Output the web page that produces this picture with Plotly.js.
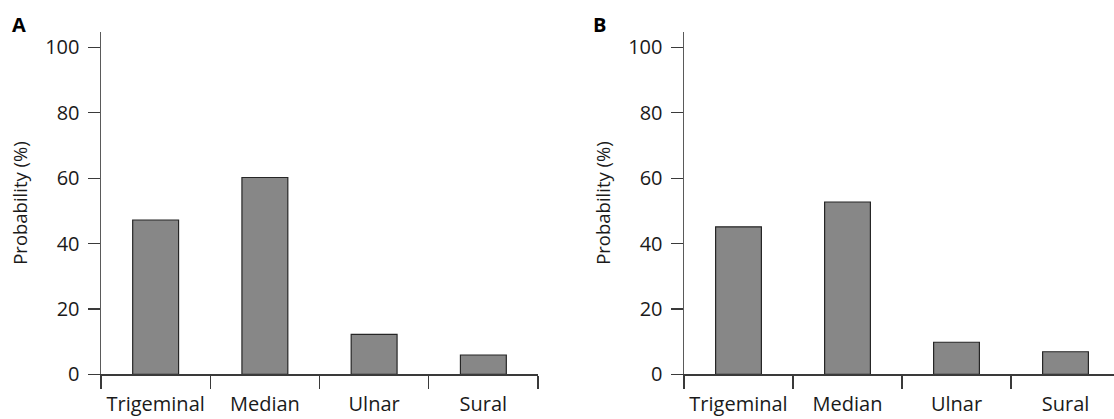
<!DOCTYPE html>
<html>
<head>
<meta charset="utf-8">
<script src="https://cdn.plot.ly/plotly-3.0.1.min.js"></script>
<style>html,body{margin:0;padding:0;background:#fff;}#chart{width:1114px;height:419px;}</style>
</head>
<body>
<div id="chart"></div>
<script>
const categories = ["Trigeminal", "Median", "Ulnar", "Sural"];
const valuesA = [47.2, 60.2, 12.2, 5.9];
const valuesB = [45.1, 52.7, 9.8, 6.9];
const yTickVals = [0, 20, 40, 60, 80, 100];
const yTitle = "Probability (%)";
const panelLabels = ["A", "B"];

const FONT = "Open Sans, Noto Sans, DejaVu Sans, sans-serif";
const barStyle = {color: "#878787", line: {color: "#262626", width: 1.2}};

const traces = [
  {type: "bar", x: categories, y: valuesA, marker: barStyle, xaxis: "x", yaxis: "y", hoverinfo: "skip"},
  {type: "bar", x: categories, y: valuesB, marker: barStyle, xaxis: "x2", yaxis: "y2", hoverinfo: "skip"}
];

const xBase = {
  type: "category", showline: true, linecolor: "#3a3a3a", linewidth: 1.3,
  ticks: "outside", tickson: "boundaries", ticklen: 13, tickcolor: "#3a3a3a", tickwidth: 1.3,
  showgrid: false, zeroline: false, fixedrange: true, ticklabelstandoff: 11,
  tickfont: {family: FONT, size: 20, color: "#1a1a1a"}
};
const yBase = {
  range: [0, 104.8], tickvals: yTickVals, showline: true, linecolor: "#5a5a5a", linewidth: 1.5,
  ticks: "outside", ticklen: 12, tickcolor: "#3a3a3a", tickwidth: 1.3,
  showgrid: false, zeroline: false, fixedrange: true, ticklabelstandoff: 4,
  tickfont: {family: FONT, size: 20, color: "#1a1a1a"},
  title: {text: yTitle, font: {family: FONT, size: 18.5, color: "#1a1a1a"}, standoff: 12}
};

const layout = {
  width: 1114, height: 419,
  margin: {l: 0, r: 0, t: 0, b: 0},
  paper_bgcolor: "#fff", plot_bgcolor: "#fff",
  showlegend: false, bargap: 0.58,
  xaxis: Object.assign({}, xBase, {domain: [101/1114, 538/1114], range: [-0.5, 3.5], anchor: "y"}),
  xaxis2: Object.assign({}, xBase, {domain: [684/1114, 1], range: [-0.5, 3.445], anchor: "y2"}),
  yaxis: Object.assign({}, yBase, {domain: [44.7/419, 387.3/419], anchor: "x"}),
  yaxis2: Object.assign({}, yBase, {domain: [44.7/419, 387.3/419], anchor: "x2"}),
  annotations: [
    {text: "<b>" + panelLabels[0] + "</b>", xref: "paper", yref: "paper", x: 10/1114, y: 1 - 24.5/419, xanchor: "left", yanchor: "middle", showarrow: false, font: {family: FONT, size: 20, color: "#000"}},
    {text: "<b>" + panelLabels[1] + "</b>", xref: "paper", yref: "paper", x: 591/1114, y: 1 - 24.5/419, xanchor: "left", yanchor: "middle", showarrow: false, font: {family: FONT, size: 20, color: "#000"}}
  ]
};

Plotly.newPlot("chart", traces, layout, {staticPlot: true, displayModeBar: false});
</script>
</body>
</html>
